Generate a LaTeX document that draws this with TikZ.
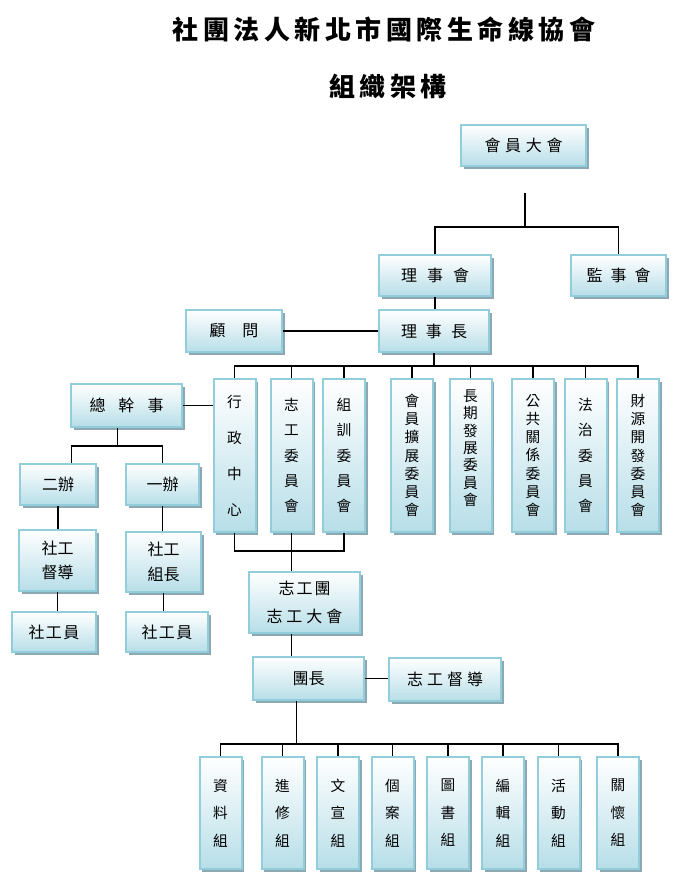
\documentclass[tikz,border=0pt]{standalone}
\usepackage{fontspec}
\setmainfont{Noto Sans CJK TC}
\usetikzlibrary{shadows}
\definecolor{boxline}{RGB}{146,205,220}
\definecolor{boxfill}{RGB}{183,222,232}
\definecolor{boxshade}{RGB}{140,168,178}
\newcommand\gap[1]{\hspace{#1pt}}
\newcommand\ls{\hspace{3.4pt}}
\tikzset{
  box/.style={draw=boxline, line width=1.5pt, top color=white, bottom color=boxfill,
    drop shadow={shadow xshift=2.2pt, shadow yshift=-2.2pt, fill=boxshade, opacity=1},
    inner sep=0pt, align=center, font=\fontsize{12}{18}\selectfont},
  tall/.style={box, minimum width=31.5pt, minimum height=114.75pt},
  grp/.style={box, minimum width=31.5pt, minimum height=84pt, font=\fontsize{11}{20.6}\selectfont},
  link/.style={line width=1pt}
}
\begin{document}
\begin{tikzpicture}[x=0.75pt, y=-0.75pt]
  \useasboundingbox (0,0) rectangle (680,896);
  \node[font=\bfseries\fontsize{19.5}{20}\selectfont] (title) at (384,29)
    {社\ls 團\ls 法\ls 人\ls 新\ls 北\ls 市\ls 國\ls 際\ls 生\ls 命\ls 線\ls 協\ls 會};
  \node[font=\bfseries\fontsize{19.5}{20}\selectfont] (subtitle) at (388,87)
    {組\ls 織\ls 架\ls 構};
  % top
  \node[box, minimum width=93.75pt, minimum height=30.75pt] (member) at (523.5,145.5) {會\gap{3.5}員\gap{3.5}大\gap{3.5}會};
  \node[box, minimum width=84pt, minimum height=30.75pt] (board) at (435,275.5) {理\gap{7.5}事\gap{7.5}會};
  \node[box, minimum width=71.25pt, minimum height=30.75pt] (supv) at (618.5,275.5) {監\gap{6}事\gap{6}會};
  \node[box, minimum width=72pt, minimum height=31.5pt] (advisor) at (234,331) {顧\gap{12.75}問};
  \node[box, minimum width=82.5pt, minimum height=31.5pt] (chair) at (434,331) {理\gap{6.75}事\gap{6.75}長};
  % committees
  \node[tall, font=\fontsize{11}{27}\selectfont] (admin) at (234.5,455.5) {行\\政\\中\\心};
  \node[tall, font=\fontsize{11}{19}\selectfont] (vcom) at (291.5,455.5) {志\\工\\委\\員\\會};
  \node[tall, font=\fontsize{11}{19}\selectfont] (tcom) at (344,455.5) {組\\訓\\委\\員\\會};
  \node[tall, font=\fontsize{11}{13.7}\selectfont] (mcom) at (412,455.5) {會\\員\\擴\\展\\委\\員\\會};
  \node[tall, font=\fontsize{11}{13}\selectfont] (lcom) at (470.5,455.5) {長\\期\\發\\展\\委\\員\\會\\[-1pt]\mbox{}};
  \node[tall, font=\fontsize{11}{13.7}\selectfont] (pcom) at (533,455.5) {公\\共\\關\\係\\委\\員\\會};
  \node[tall, font=\fontsize{11}{19}\selectfont] (jcom) at (585.5,455.5) {法\\治\\委\\員\\會};
  \node[tall, font=\fontsize{11}{13.7}\selectfont] (fcom) at (638,455.5) {財\\源\\開\\發\\委\\員\\會};
  % left side
  \node[box, minimum width=83.25pt, minimum height=32.25pt] (secgen) at (126.5,405.5) {總\gap{9.75}幹\gap{9.75}事};
  \node[box, minimum width=57pt, minimum height=30.75pt] (office2) at (58,484.5) {二辦};
  \node[box, minimum width=54.75pt, minimum height=30.75pt] (office1) at (162.5,484.5) {一辦};
  \node[box, minimum width=57.75pt, minimum height=45.75pt] (swsup) at (57.5,560.5) {社工\\督導};
  \node[box, minimum width=56.25pt, minimum height=45pt, font=\fontsize{12}{18.75}\selectfont] (swlead) at (163.5,562) {社工\\組長};
  \node[box, minimum width=63pt, minimum height=30pt] (sw2) at (54,632) {社\gap{1}工\gap{1}員};
  \node[box, minimum width=61.5pt, minimum height=30pt] (sw1) at (167,632) {社\gap{1}工\gap{1}員};
  % volunteers
  \node[box, minimum width=83.25pt, minimum height=45.75pt, font=\fontsize{12}{21}\selectfont] (vgroup) at (304.5,602.5)
    {志\gap{1.5}工\gap{1.5}團\\志\gap{3}工\gap{3}大\gap{3}會};
  \node[box, minimum width=83.25pt, minimum height=32.25pt] (leader) at (308.5,678.5) {團長};
  \node[box, minimum width=84pt, minimum height=32.25pt] (vsup) at (445,679.5) {志\gap{3}工\gap{3}督\gap{3}導};
  \node[grp] (ginfo) at (220.5,813) {資\\料\\組};
  \node[grp] (gstudy) at (282.5,813) {進\\修\\組};
  \node[grp] (gpromo) at (338,813) {文\\宣\\組};
  \node[grp] (gcase) at (392.5,813) {個\\案\\組};
  \node[grp] (gbook) at (448,813) {圖\\書\\組};
  \node[grp] (gedit) at (503,813) {編\\輯\\組};
  \node[grp] (gevent) at (558.5,813) {活\\動\\組};
  \node[grp] (gcare) at (618,813) {關\\懷\\組};
  % connectors
  \coordinate (mtop) at (525,193);
  \draw[link] (mtop) -- ++(0,34) coordinate (mbus);
  \draw[link] (mbus) -| (board.north);
  \draw[link] (mbus) -| (supv.north);
  \draw[link] (board.south) -- (board.south |- chair.north);
  \draw[link] (advisor.east) -- (chair.west);
  \draw[link] (chair.south) -- ++(0,13) coordinate (cbus);
  \foreach \c in {admin,vcom,tcom,mcom,lcom,pcom,jcom,fcom}
    \draw[link] (cbus) -| (\c.north);
  \draw[link] (secgen.east) -- (secgen.east -| admin.west);
  \draw[link] ([xshift=-7pt]secgen.south) -- ++(0,18) coordinate (sbus);
  \draw[link] (sbus) -| ([xshift=10pt]office2.north);
  \draw[link] (sbus) -| (office1.north);
  \draw[link] (office2.south) -- (office2.south |- swsup.north);
  \draw[link] (swsup.south) -- (swsup.south |- sw2.north);
  \draw[link] (office1.south) -- (office1.south |- swlead.north);
  \draw[link] (swlead.south) -- (swlead.south |- sw1.north);
  \draw[link] (admin.south) -- ++(0,18) -| (tcom.south);
  \draw[link] (vcom.south) -- (vcom.south |- vgroup.north);
  \draw[link] (vcom.south |- vgroup.south) -- (vcom.south |- leader.north);
  \draw[link] (leader.east) -- (leader.east -| vsup.west);
  \draw[link] ([xshift=-9pt]leader.south) -- ++(0,43) coordinate (gbus);
  \foreach \g in {ginfo,gstudy,gpromo,gcase,gbook,gedit,gevent,gcare}
    \draw[link] (gbus) -| (\g.north);
\end{tikzpicture}
\end{document}
